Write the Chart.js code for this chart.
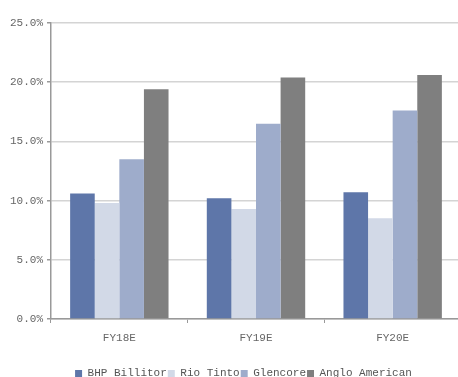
<!DOCTYPE html>
<html>
<head>
<meta charset="utf-8">
<script src="https://cdn.jsdelivr.net/npm/chart.js@4.4.0/dist/chart.umd.min.js"></script>
<style>
    html, body { margin: 0; padding: 0; background: #fff; overflow: hidden; }
    #wrap { width: 458px; height: 377px; overflow: hidden; }
    canvas { display: block; }
</style>
</head>
<body>
<div id="wrap"><canvas id="chart" width="461" height="377"></canvas></div>
<script>
(function () {
    'use strict';

    var categories = ['FY18E', 'FY19E', 'FY20E'];
    var seriesNames = ['BHP Billitor', 'Rio Tinto', 'Glencore', 'Anglo American'];
    var bhp = [10.6, 10.2, 10.7];
    var rio = [9.8, 9.3, 8.5];
    var glencore = [13.5, 16.5, 17.6];
    var anglo = [19.4, 20.4, 20.6];
    var yTicks = [0, 5, 10, 15, 20, 25];

    var colors = ['#5e76a9', '#d2d9e7', '#9eaccb', '#7f7f7f'];
    var values = [bhp, rio, glencore, anglo];
    var font = { family: '"Liberation Mono", "DejaVu Sans Mono", monospace', size: 11 };

    var datasets = seriesNames.map(function (name, i) {
        return {
            label: name,
            data: values[i],
            backgroundColor: colors[i],
            borderWidth: 0,
            categoryPercentage: 0.72,
            barPercentage: 1.0
        };
    });

    // nudge the legend down/right to where the original sits
    var legendShift = {
        id: 'legendShift',
        afterLayout: function (chart) {
            var lg = chart.legend;
            if (!lg) return;
            lg.top += 14; lg.bottom += 14;
            lg.left += 13; lg.right += 13;
        }
    };

    new Chart(document.getElementById('chart'), {
        type: 'bar',
        data: { labels: categories, datasets: datasets },
        plugins: [legendShift],
        options: {
            responsive: false,
            animation: false,
            layout: { padding: { top: 23, right: 0, bottom: 2, left: 0 } },
            plugins: {
                tooltip: { enabled: false },
                legend: {
                    position: 'bottom',
                    labels: {
                        boxWidth: 7, boxHeight: 7, padding: 1,
                        color: '#555', font: font
                    }
                }
            },
            scales: {
                x: {
                    grid: { display: true, drawOnChartArea: false, tickLength: 4, color: '#999', offset: true },
                    border: { color: '#999', width: 1.5 },
                    ticks: { color: '#666', font: font, padding: 8 },
                    afterFit: function (s) { s.height = 34; }
                },
                y: {
                    min: 0, max: 25,
                    afterBuildTicks: function (s) { s.ticks = yTicks.map(function (v) { return { value: v }; }); },
                    grid: { color: '#d4d4d4', lineWidth: 1.5, tickLength: 4, tickColor: '#999' },
                    border: { color: '#999', width: 1.5 },
                    ticks: {
                        color: '#666', font: font, padding: 4,
                        callback: function (v) { return v.toFixed(1) + '%'; }
                    },
                    afterFit: function (s) { s.width = 51; }
                }
            }
        }
    });
})();
</script>
</body>
</html>
